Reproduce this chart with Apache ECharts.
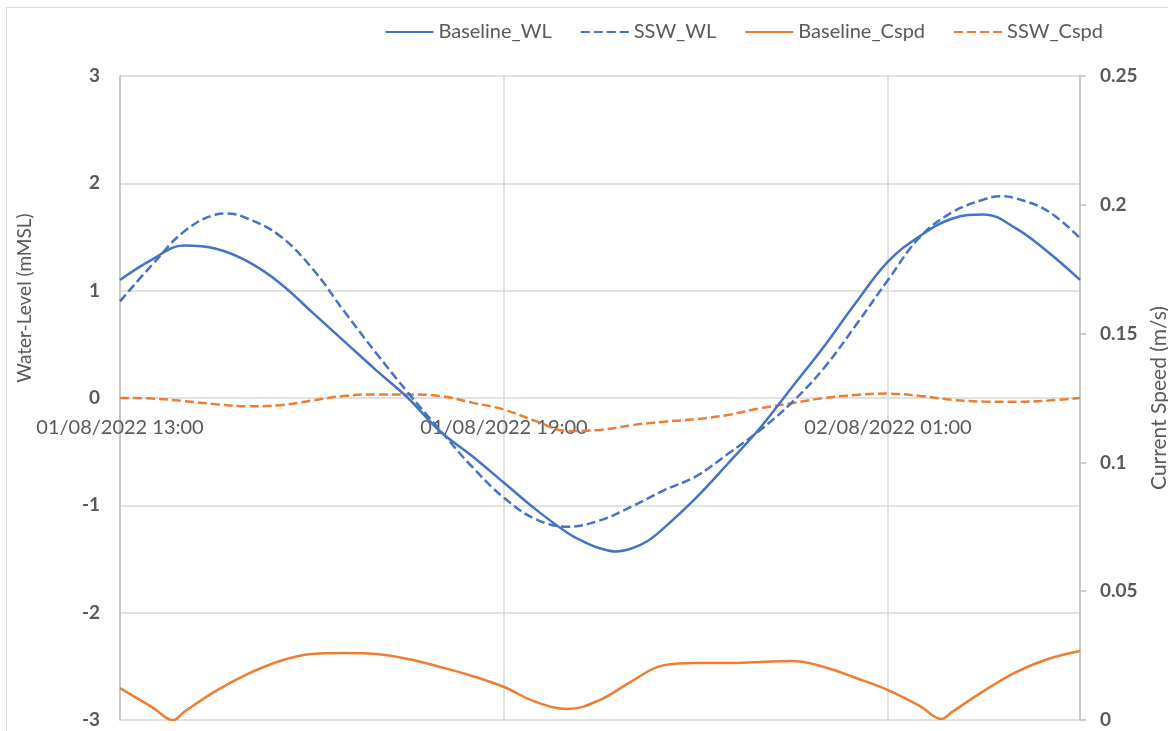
<!DOCTYPE html>
<html>
<head>
<meta charset="utf-8">
<script src="https://cdn.jsdelivr.net/npm/echarts@6/dist/echarts.min.js"></script>
<style>
html,body{margin:0;padding:0;background:#fff;}
#chart{width:1168px;height:731px;}
</style>
</head>
<body>
<div id="chart"></div>
<script>
// ---- data ----
const seriesNames = ['Baseline_WL', 'SSW_WL', 'Baseline_Cspd', 'SSW_Cspd'];
const xTickLabels = ['01/08/2022 13:00', '01/08/2022 19:00', '02/08/2022 01:00'];
const startTime = '2022-08-01 13:00';
const endTime = '2022-08-02 04:00';

const baselineWLTimes = [
  '2022-08-01 13:00','2022-08-01 13:30','2022-08-01 14:00','2022-08-01 14:30',
  '2022-08-01 15:00','2022-08-01 15:30','2022-08-01 16:00','2022-08-01 16:30',
  '2022-08-01 17:00','2022-08-01 17:30','2022-08-01 18:00','2022-08-01 18:30',
  '2022-08-01 19:00','2022-08-01 19:30','2022-08-01 20:00','2022-08-01 20:15','2022-08-01 20:30',
  '2022-08-01 20:45','2022-08-01 21:00','2022-08-01 21:15','2022-08-01 21:30','2022-08-01 22:00','2022-08-01 22:30',
  '2022-08-01 23:00','2022-08-01 23:30','2022-08-02 00:00','2022-08-02 00:30',
  '2022-08-02 01:00','2022-08-02 01:30','2022-08-02 02:00','2022-08-02 02:30',
  '2022-08-02 03:00','2022-08-02 03:30','2022-08-02 04:00'
];
const baselineWL = [
  1.10, 1.29, 1.42, 1.39,
  1.27, 1.07, 0.80, 0.53,
  0.26, 0.00, -0.31, -0.54,
  -0.79, -1.04, -1.26, -1.34, -1.40,
  -1.43, -1.40, -1.33, -1.21, -0.93, -0.61,
  -0.28, 0.10, 0.48, 0.89,
  1.27, 1.51, 1.67, 1.71,
  1.58, 1.36, 1.10
];

const sswWLTimes = [
  '2022-08-01 13:00','2022-08-01 13:30','2022-08-01 14:00','2022-08-01 14:30','2022-08-01 14:40',
  '2022-08-01 15:00','2022-08-01 15:30','2022-08-01 16:00','2022-08-01 16:30',
  '2022-08-01 17:00','2022-08-01 17:30','2022-08-01 18:00','2022-08-01 18:30',
  '2022-08-01 19:00','2022-08-01 19:30','2022-08-01 20:00','2022-08-01 20:30',
  '2022-08-01 21:00','2022-08-01 21:30','2022-08-01 22:00','2022-08-01 22:30',
  '2022-08-01 23:00','2022-08-01 23:30','2022-08-02 00:00','2022-08-02 00:30',
  '2022-08-02 01:00','2022-08-02 01:30','2022-08-02 02:00','2022-08-02 02:30','2022-08-02 02:45',
  '2022-08-02 03:00','2022-08-02 03:30','2022-08-02 04:00'
];
const sswWL = [
  0.90, 1.24, 1.55, 1.71, 1.72,
  1.67, 1.51, 1.21, 0.81,
  0.42, 0.05, -0.30, -0.64,
  -0.93, -1.13, -1.20, -1.14,
  -1.01, -0.86, -0.73, -0.52,
  -0.30, -0.04, 0.28, 0.68,
  1.10, 1.50, 1.73, 1.85, 1.88,
  1.86, 1.74, 1.49
];

const sswCspdTimes = [
  '2022-08-01 13:00','2022-08-01 13:30','2022-08-01 14:00','2022-08-01 14:30',
  '2022-08-01 15:00','2022-08-01 15:30','2022-08-01 16:00','2022-08-01 16:30',
  '2022-08-01 17:00','2022-08-01 17:30','2022-08-01 18:00','2022-08-01 18:30',
  '2022-08-01 19:00','2022-08-01 19:30','2022-08-01 20:00','2022-08-01 20:30',
  '2022-08-01 21:00','2022-08-01 21:30','2022-08-01 22:00','2022-08-01 22:30',
  '2022-08-01 23:00','2022-08-01 23:30','2022-08-02 00:00','2022-08-02 00:30',
  '2022-08-02 01:00','2022-08-02 01:30','2022-08-02 02:00','2022-08-02 02:30',
  '2022-08-02 03:00','2022-08-02 03:30','2022-08-02 04:00'
];
const sswCspd = [
  0.1250, 0.1248, 0.1238, 0.1226, 0.1218, 0.1222, 0.1240, 0.1258, 0.1264, 0.1264,
  0.1258, 0.1232, 0.1205, 0.1160, 0.1122, 0.1126, 0.1145, 0.1158, 0.1168, 0.1184,
  0.1210, 0.1230, 0.1250, 0.1262, 0.1267, 0.1258, 0.1243, 0.1236, 0.1235, 0.1240, 0.1250
];

const baselineCspdTimes = [
  '2022-08-01 13:00','2022-08-01 13:30','2022-08-01 13:50','2022-08-01 14:00','2022-08-01 14:30',
  '2022-08-01 15:00','2022-08-01 15:30','2022-08-01 16:00','2022-08-01 16:30',
  '2022-08-01 17:00','2022-08-01 17:30','2022-08-01 18:00','2022-08-01 18:30',
  '2022-08-01 19:00','2022-08-01 19:30','2022-08-01 20:00','2022-08-01 20:30',
  '2022-08-01 21:00','2022-08-01 21:30','2022-08-01 22:00','2022-08-01 22:30',
  '2022-08-01 23:00','2022-08-01 23:30','2022-08-02 00:00','2022-08-02 00:30',
  '2022-08-02 01:00','2022-08-02 01:30','2022-08-02 01:50','2022-08-02 02:00','2022-08-02 02:30',
  '2022-08-02 03:00','2022-08-02 03:30','2022-08-02 04:00'
];
const baselineCspd = [
  0.0124, 0.0050, 0.0000, 0.0031, 0.0113,
  0.0179, 0.0229, 0.0256, 0.0260,
  0.0256, 0.0237, 0.0206, 0.0171,
  0.0128, 0.0070, 0.0043, 0.0078,
  0.0151, 0.0213, 0.0221, 0.0221,
  0.0225, 0.0229, 0.0206, 0.0163,
  0.0116, 0.0054, 0.0004, 0.0031, 0.0113,
  0.0186, 0.0237, 0.0268
];

// ---- helpers ----
function toMs(s) {
  const [d, t] = s.split(' ');
  const [Y, M, D] = d.split('-').map(Number);
  const [h, m] = t.split(':').map(Number);
  return Date.UTC(Y, M - 1, D, h, m);
}
const t0 = toMs(startTime);
function hrs(s) { return (toMs(s) - t0) / 3600000; }
function pairs(times, vals) { return times.map((t, i) => [hrs(t), vals[i]]); }

const BLUE = '#4472C4', ORANGE = '#ED7D31';
const TXT = '#595959', GRID = '#d9d9d9', AX = '#bfbfbf';
const FONT = 'Lato';
const DASH = [9, 4];

const chart = echarts.init(document.getElementById('chart'));
chart.setOption({
  backgroundColor: '#fff',
  animation: false,
  textStyle: { fontFamily: FONT },
  graphic: [{
    type: 'rect', left: 4, top: 5, silent: true,
    shape: { width: 1180, height: 740 },
    style: { fill: 'none', stroke: '#d9d9d9', lineWidth: 1 }
  }],
  legend: {
    right: 60, top: 17,
    itemWidth: 48, itemHeight: 4, itemGap: 28,
    itemStyle: { opacity: 0 },
    textStyle: { fontFamily: FONT, fontSize: 20, color: TXT },
    data: seriesNames
  },
  grid: { left: 120, right: 88, top: 76, bottom: 11, containLabel: false, outerBoundsMode: 'none' },
  xAxis: {
    type: 'value',
    min: 0, max: hrs(endTime), interval: 6,
    axisLine: { show: false, onZero: false },
    axisTick: { show: false },
    splitLine: { show: true, lineStyle: { color: GRID, width: 1.5 } },
    axisLabel: {
      margin: -302, fontFamily: FONT, fontSize: 20, color: TXT,
      showMaxLabel: false,
      formatter: v => xTickLabels[Math.round(v / 6)] || ''
    }
  },
  yAxis: [{
    type: 'value', min: -3, max: 3, interval: 1,
    name: 'Water-Level (mMSL)', nameLocation: 'middle', nameGap: 86,
    nameTextStyle: { fontFamily: FONT, fontSize: 19, color: TXT, padding: [0, 0, 0, 200] },
    axisLine: { show: true, onZero: false, lineStyle: { color: AX, width: 1.5 } },
    axisTick: { show: false },
    splitLine: { show: true, lineStyle: { color: GRID, width: 1.5 } },
    axisLabel: { margin: 20, fontFamily: FONT, fontSize: 19, fontWeight: 'bold', color: TXT }
  }, {
    type: 'value', min: 0, max: 0.25, interval: 0.05, position: 'right',
    name: 'Current Speed (m/s)', nameLocation: 'middle', nameGap: 67,
    nameTextStyle: { fontFamily: FONT, fontSize: 21, color: TXT },
    axisLine: { show: true, onZero: false, lineStyle: { color: AX, width: 1.5 } },
    axisTick: { show: true, inside: false, length: 6, lineStyle: { color: AX, width: 1.5 } },
    splitLine: { show: false },
    axisLabel: { margin: 20, fontFamily: FONT, fontSize: 19, fontWeight: 'bold', color: TXT }
  }],
  series: [{
    name: seriesNames[0], type: 'line', yAxisIndex: 0, smooth: 0.4,
    symbol: 'none', data: pairs(baselineWLTimes, baselineWL),
    lineStyle: { color: BLUE, width: 2.5 }, itemStyle: { color: BLUE }, z: 4
  }, {
    name: seriesNames[1], type: 'line', yAxisIndex: 0, smooth: 0.4,
    symbol: 'none', data: pairs(sswWLTimes, sswWL),
    lineStyle: { color: BLUE, width: 2.5, type: DASH }, itemStyle: { color: BLUE }, z: 3
  }, {
    name: seriesNames[2], type: 'line', yAxisIndex: 1, smooth: 0.4,
    symbol: 'none', data: pairs(baselineCspdTimes, baselineCspd),
    lineStyle: { color: ORANGE, width: 2.5 }, itemStyle: { color: ORANGE }, z: 2
  }, {
    name: seriesNames[3], type: 'line', yAxisIndex: 1, smooth: 0.4,
    symbol: 'none', data: pairs(sswCspdTimes, sswCspd),
    lineStyle: { color: ORANGE, width: 2.5, type: DASH }, itemStyle: { color: ORANGE }, z: 2
  }]
});
</script>
</body>
</html>
